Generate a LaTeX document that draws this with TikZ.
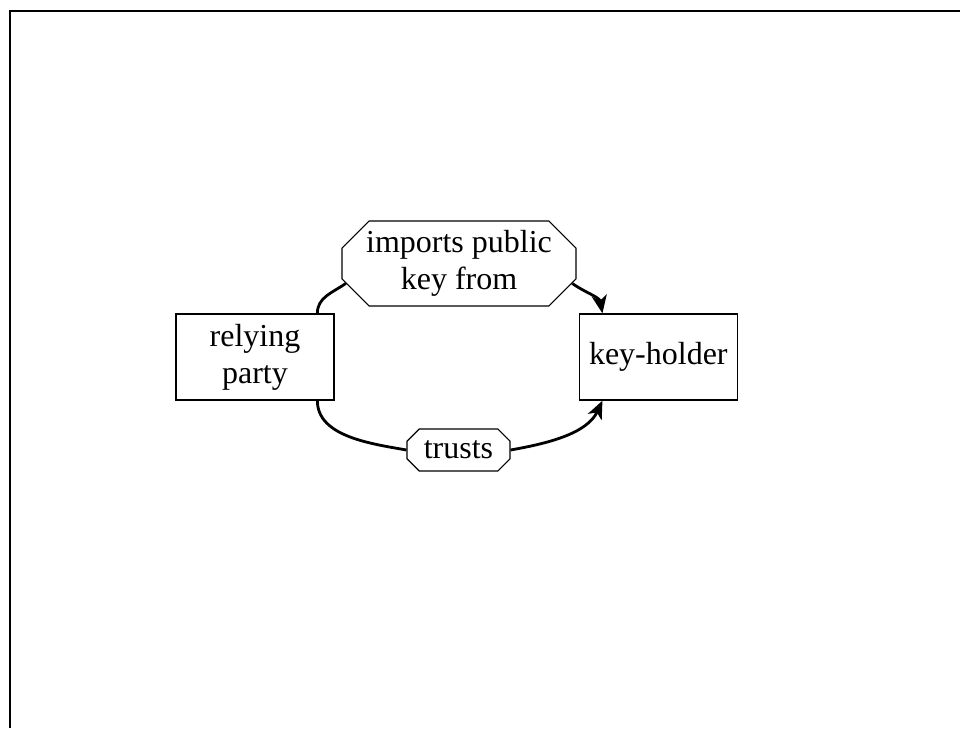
\documentclass[tikz,border=0pt]{standalone}
\usepackage{fontspec}
\setmainfont{Liberation Serif}
\usepackage{tikz}
\usetikzlibrary{arrows.meta}
\usetikzlibrary{positioning}
\usetikzlibrary{shapes.misc}

\begin{document}
\begin{tikzpicture}[
	x=1pt,y=1pt,
	party/.style={
		draw,line width=1.3pt,
		minimum height=86pt,
		minimum width=158pt,
		inner sep=0pt,
		text centered,align=center,
		font=\fontsize{32}{37}\selectfont,
	},
	relation/.style={
		chamfered rectangle,draw,line width=1.1pt,
		chamfered rectangle xsep=24pt,
		inner sep=0pt,
		text centered,align=center,
		font=\fontsize{32}{37}\selectfont,
	},
	link/.style={line width=2.8pt},
	arrow/.style={link,-{Stealth[length=18pt,width=15pt,inset=5pt]}},
]
\useasboundingbox (0,0) rectangle (960,728);
\draw[line width=2pt] (10,0) |- (960,717);
\node [party] (rp) at (255,371) {relying\\party};
\node [party,right=244pt of rp] (kh) {key-holder};
\node [relation,minimum width=234pt,minimum height=85pt] (imp) at (459,464.5) {imports public\\key from};
\node [relation,minimum width=103pt,minimum height=42pt,chamfered rectangle xsep=13pt] (tr) at (458.5,278) {trusts};
\draw [link] (rp.35) to[out=90,in=215] (imp.190);
\draw [arrow] (imp.-10) to[out=-35,in=100] (kh.142);
\draw [link] (rp.-35) to[out=-90,in=170,looseness=0.9] (tr.west);
\draw [arrow] (tr.east) to[out=10,in=-115,looseness=0.9] (kh.-142);
\end{tikzpicture}
\end{document}
